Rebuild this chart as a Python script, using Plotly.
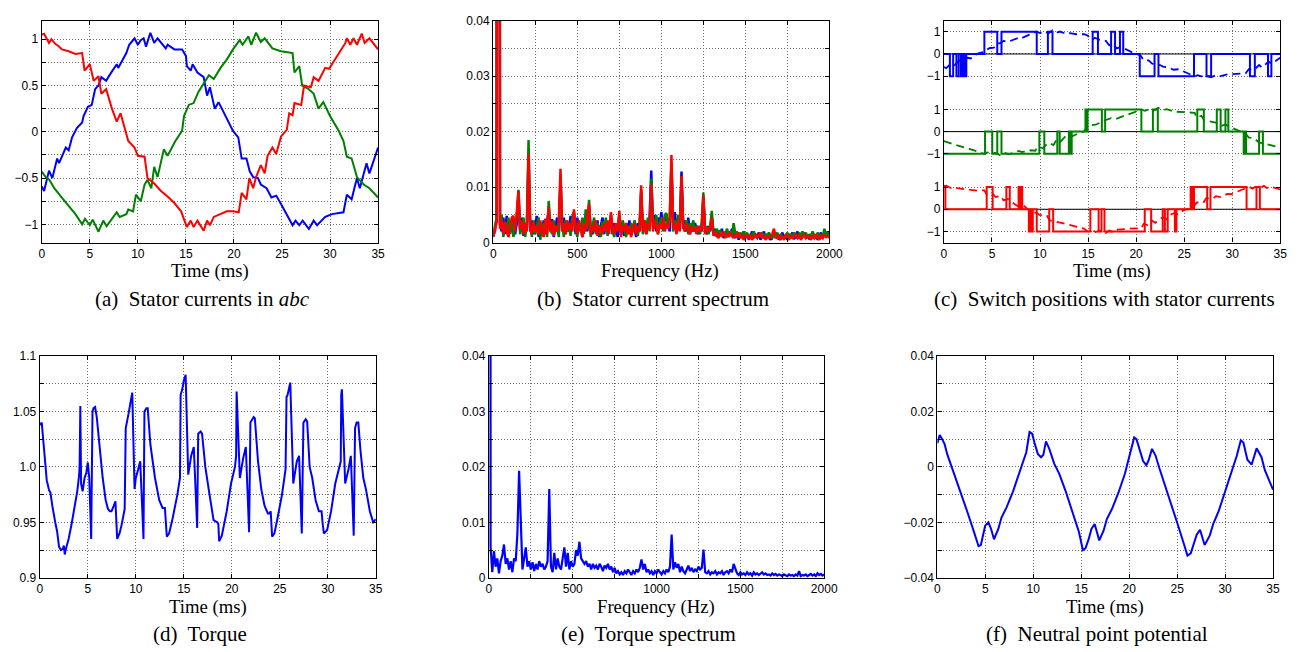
import plotly.graph_objects as go

# ------------------------------------------------------------------ data
# (a) stator currents (time in ms, current in p.u.)
ia_pts = [(0, -0.59), (0.24, -0.64), (0.75, -0.42), (1.1, -0.5), (1.6, -0.29), (1.8, -0.34), (2.5, -0.17), (2.8, -0.2),
          (3.15, -0.06), (3.65, 0.04), (4.2, 0.1), (4.35, 0.17), (4.8, 0.27), (5.2, 0.29), (5.55, 0.46), (5.9, 0.5),
          (6.2, 0.59), (6.7, 0.55), (7.1, 0.62), (7.8, 0.73), (7.95, 0.69), (8.8, 0.85), (9.1, 0.94), (9.65, 1.01),
          (10.0, 0.94), (10.3, 0.99), (10.6, 1.01), (10.85, 0.92), (11.3, 1.07), (11.7, 0.96), (12.05, 1.01), (12.4, 0.96),
          (12.9, 0.9), (13.1, 0.94), (13.8, 0.89), (14.6, 0.89), (15.0, 0.82), (15.1, 0.71), (15.5, 0.66), (15.7, 0.73),
          (16.2, 0.64), (16.85, 0.59), (17.2, 0.39), (17.5, 0.48), (18.0, 0.25), (18.4, 0.32), (19.25, 0.15), (19.9, 0.01),
          (20.45, -0.06), (20.8, -0.29), (21.3, -0.29), (21.65, -0.43), (22.0, -0.49), (22.5, -0.5), (22.8, -0.57),
          (23.4, -0.61), (23.9, -0.71), (24.4, -0.69), (24.9, -0.78), (25.75, -0.94), (26.1, -1.01), (26.4, -0.96),
          (26.8, -1.01), (27.15, -0.96), (27.5, -1.01), (27.8, -1.05), (28.3, -0.96), (28.65, -1.01), (29.5, -0.92),
          (30.2, -0.89), (31.4, -0.87), (31.75, -0.68), (32.25, -0.73), (32.8, -0.5), (33.1, -0.61), (33.8, -0.34),
          (34.1, -0.45), (35, -0.17)]
ib_pts = [(0, -0.43), (0.4, -0.49), (0.8, -0.52), (1.3, -0.61), (2.0, -0.7), (2.8, -0.8), (3.5, -0.89), (4.2, -1.0),
          (4.5, -0.94), (5.0, -1.01), (5.3, -0.95), (5.9, -1.08), (6.4, -0.96), (6.75, -1.02), (7.8, -0.87), (8.1, -0.92),
          (8.8, -0.89), (9.0, -0.84), (9.5, -0.86), (9.8, -0.68), (10.3, -0.75), (10.7, -0.57), (11.0, -0.52),
          (11.4, -0.61), (11.7, -0.38), (12.05, -0.49), (12.7, -0.19), (13.1, -0.26), (13.9, -0.1), (14.6, 0.01),
          (14.8, 0.17), (15.3, 0.29), (15.8, 0.31), (16.3, 0.43), (16.7, 0.5), (17.4, 0.61), (17.9, 0.57), (18.6, 0.69),
          (19.25, 0.78), (19.9, 0.89), (20.6, 0.99), (20.9, 0.94), (21.5, 1.03), (21.8, 0.94), (22.3, 1.07), (22.8, 0.97),
          (23.2, 1.01), (24.0, 0.9), (24.9, 0.87), (26.1, 0.85), (26.3, 0.64), (26.8, 0.71), (27.1, 0.5), (27.8, 0.46),
          (28.3, 0.41), (28.8, 0.25), (29.3, 0.32), (30.0, 0.17), (30.9, 0.01), (31.4, -0.1), (31.75, -0.27),
          (32.25, -0.29), (32.8, -0.49), (33.5, -0.57), (34.1, -0.61), (35, -0.71)]
ic_pts = [(0, 1.05), (0.24, 1.06), (0.75, 0.96), (1.0, 1.0), (1.4, 0.95), (1.7, 0.93), (2.1, 0.89), (2.8, 0.87),
          (3.5, 0.84), (4.2, 0.85), (4.45, 0.66), (5.0, 0.73), (5.4, 0.55), (5.9, 0.6), (6.2, 0.41), (6.7, 0.46),
          (7.3, 0.25), (7.8, 0.11), (8.2, 0.2), (9.0, -0.1), (9.65, -0.17), (10.0, -0.26), (10.7, -0.27), (11.0, -0.5),
          (11.7, -0.56), (12.4, -0.64), (13.1, -0.7), (13.8, -0.77), (14.5, -0.86), (14.9, -0.98), (15.1, -1.03),
          (15.5, -0.96), (15.8, -1.03), (16.2, -0.96), (16.5, -1.01), (16.85, -1.07), (17.2, -0.96), (17.5, -1.01),
          (17.9, -0.92), (18.6, -0.89), (19.25, -0.86), (19.9, -0.86), (20.5, -0.87), (20.8, -0.66), (21.3, -0.73),
          (21.6, -0.5), (22.0, -0.61), (22.3, -0.49), (22.8, -0.36), (23.2, -0.45), (23.5, -0.26), (24.0, -0.17),
          (24.4, -0.24), (24.9, -0.05), (25.5, 0.02), (25.75, 0.2), (26.1, 0.18), (26.3, 0.31), (27.0, 0.29),
          (27.3, 0.5), (28.0, 0.48), (28.3, 0.59), (28.8, 0.55), (29.5, 0.69), (29.9, 0.68), (31.6, 0.96),
          (31.75, 1.01), (32.1, 0.94), (32.45, 1.01), (32.8, 0.94), (33.3, 1.06), (33.6, 0.96), (34.1, 1.01), (35, 0.89)]

# (b) stator current spectra, 10 Hz bins, amplitude in units of 1e-4
spec_ia_e4 = [10, 25, 40, 5000, 35, 20, 45, 15, 48, 10,
              30, 20, 42, 15, 35, 85, 20, 45, 12, 30,
              25, 150, 20, 40, 15, 35, 48, 10, 30, 20,
              40, 15, 35, 60, 20, 42, 10, 30, 45, 15,
              120, 25, 45, 15, 35, 20, 48, 30, 50, 15,
              45, 25, 35, 10, 30, 50, 20, 65, 25, 15,
              35, 20, 40, 10, 30, 45, 15, 38, 20, 30,
              45, 15, 35, 25, 10, 45, 20, 30, 12, 35,
              20, 40, 15, 30, 25, 10, 35, 20, 90, 25,
              40, 15, 35, 45, 130, 30, 50, 20, 45, 30,
              55, 25, 40, 50, 30, 20, 140, 35, 55, 20,
              45, 30, 128, 25, 40, 20, 45, 15, 30, 20,
              35, 25, 15, 30, 20, 80, 25, 15, 30, 20,
              45, 15, 25, 10, 20, 12, 25, 8, 18, 10,
              20, 12, 25, 15, 8, 18, 5, 15, 10, 20,
              8, 15, 5, 12, 20, 8, 15, 10, 18, 5,
              12, 20, 8, 15, 10, 5, 12, 18, 8, 15,
              5, 10, 18, 8, 12, 5, 15, 10, 18, 6,
              12, 20, 8, 15, 10, 18, 8, 14, 6, 12,
              18, 8, 14, 5, 12, 18, 8, 15, 10, 20,
              12]
spec_ib_e4 = [15, 30, 45, 5000, 30, 50, 10, 35, 20, 45,
              15, 38, 10, 30, 45, 95, 15, 30, 45, 10,
              35, 185, 30, 10, 40, 15, 30, 45, 5, 35,
              20, 42, 10, 75, 25, 15, 40, 20, 30, 10,
              110, 35, 10, 40, 20, 30, 12, 45, 55, 25,
              10, 35, 20, 45, 15, 60, 25, 77, 10, 30,
              45, 15, 35, 20, 10, 38, 25, 45, 12, 30,
              50, 20, 10, 35, 25, 50, 15, 40, 25, 10,
              30, 15, 35, 20, 40, 25, 12, 30, 95, 15,
              35, 25, 45, 20, 115, 40, 25, 50, 15, 35,
              45, 20, 50, 53, 25, 45, 145, 20, 40, 30,
              50, 25, 118, 35, 20, 40, 15, 35, 25, 40,
              20, 30, 25, 15, 35, 90, 20, 30, 15, 25,
              57, 20, 12, 25, 15, 22, 10, 20, 12, 25,
              15, 20, 10, 35, 15, 20, 8, 18, 12, 20,
              10, 18, 8, 15, 10, 20, 12, 8, 15, 10,
              18, 8, 15, 10, 18, 12, 8, 15, 10, 18,
              8, 15, 10, 5, 12, 18, 8, 15, 10, 18,
              12, 8, 18, 10, 20, 12, 18, 8, 15, 10,
              20, 12, 8, 18, 10, 15, 8, 25, 12, 18,
              10]
spec_ic_e4 = [12, 20, 38, 5000, 25, 40, 15, 38, 20, 10,
              30, 45, 48, 20, 55, 93, 25, 40, 15, 35,
              20, 160, 25, 15, 38, 20, 30, 15, 40, 20,
              10, 43, 15, 65, 20, 38, 12, 30, 20, 40,
              133, 20, 35, 15, 40, 25, 35, 20, 60, 30,
              15, 40, 25, 10, 35, 20, 45, 70, 15, 30,
              20, 40, 12, 30, 25, 15, 35, 20, 40, 15,
              55, 25, 15, 35, 20, 57, 10, 30, 20, 35,
              15, 30, 10, 25, 35, 15, 30, 20, 103, 20,
              40, 15, 35, 25, 105, 20, 40, 30, 15, 35,
              25, 45, 20, 35, 25, 40, 158, 25, 35, 15,
              40, 20, 120, 30, 20, 35, 25, 15, 30, 20,
              25, 15, 30, 20, 25, 85, 15, 25, 20, 30,
              45, 12, 20, 15, 8, 18, 12, 20, 8, 15,
              10, 18, 12, 8, 15, 10, 18, 8, 12, 5,
              10, 15, 8, 12, 5, 10, 15, 8, 12, 18,
              8, 12, 5, 10, 8, 12, 15, 25, 10, 8,
              12, 5, 10, 8, 15, 10, 5, 12, 8, 10,
              15, 8, 12, 5, 10, 15, 8, 12, 10, 5,
              12, 8, 15, 10, 5, 12, 8, 15, 10, 12,
              8]

# (c) switch positions: (switch time in ms, new level)
sw_a = [(0, 0), (0.62, -1), (0.96, 0), (1.3, -1), (1.54, 0), (1.78, -1), (1.92, 0), (2.12, -1), (2.33, 0),
        (4.21, 1), (5.55, 0), (5.99, 1), (9.66, 0), (10.82, 1), (11.3, 0), (15.48, 1), (16.03, 0), (17.4, 1),
        (17.81, 0), (18.32, 1), (18.66, 0), (20.38, -1), (21.92, 0), (22.33, -1), (26.03, 0), (27.33, -1),
        (27.81, 0), (31.85, -1), (32.36, 0), (33.73, -1), (34.08, 0), (35, 0)]
sw_b = [(0, -1), (4.28, 0), (5.03, -1), (5.55, 0), (5.99, -1), (9.93, 0), (10.45, -1), (11.8, 0), (12.05, -1),
        (13.0, 0), (13.1, -1), (13.3, 0), (14.73, 1), (14.85, 0), (14.95, 1), (16.44, 0), (16.78, 1), (20.55, 0),
        (21.75, 1), (22.26, 0), (26.37, 1), (27.05, 0), (28.4, 1), (28.8, 0), (29.3, 1), (29.6, 0), (31.2, -1),
        (31.35, 0), (31.45, -1), (32.8, 0), (33.2, -1), (35, -1)]
sw_c = [(0, 1), (0.15, 0), (4.45, 1), (5.07, 0), (6.5, 1), (6.85, 0), (7.77, 1), (7.9, 0), (8.0, 1), (8.15, 0),
        (8.84, -1), (9.0, 0), (9.1, -1), (9.25, 0), (9.66, -1), (10.96, 0), (11.37, -1), (15.24, 0), (16.1, -1),
        (16.4, 0), (16.71, -1), (20.9, 0), (21.57, -1), (22.77, 0), (23.0, -1), (23.29, 0), (24.04, -1),
        (24.2, 0), (25.68, 1), (25.85, 0), (26.03, 1), (27.4, 0), (27.74, 1), (31.5, 0), (32.53, 1), (32.88, 0),
        (35, 0)]
phase_offsets = [7.0, 3.5, 0.0]   # vertical stacking of phases a, b, c in panel (c)

# (d) electromagnetic torque (ms, p.u.)
torque_pts = [(0, 1.038), (0.2, 1.04), (0.45, 1.015), (0.72, 0.988), (0.96, 0.979), (1.1, 0.977), (1.3, 0.965),
              (1.5, 0.953), (1.65, 0.948), (1.8, 0.942), (2.0, 0.928), (2.2, 0.925), (2.4, 0.926), (2.5, 0.929),
              (2.6, 0.921), (2.75, 0.927), (3.0, 0.935), (3.3, 0.948), (3.6, 0.962), (3.9, 0.978), (4.1, 0.993),
              (4.15, 1.003), (4.22, 1.055), (4.3, 0.985), (4.46, 0.978), (4.66, 0.99), (4.85, 0.995), (5.0, 1.004),
              (5.15, 0.99), (5.35, 0.935), (5.49, 1.05), (5.6, 1.053), (5.76, 1.054), (5.93, 1.045), (6.1, 1.03),
              (6.34, 1.005), (6.55, 0.99), (6.86, 0.97), (7.1, 0.962), (7.3, 0.96), (7.47, 0.96), (7.71, 0.965),
              (7.88, 0.969), (7.95, 0.955), (8.06, 0.935), (8.3, 0.94), (8.5, 0.947), (8.84, 0.962), (8.95, 1.035),
              (9.2, 1.046), (9.4, 1.055), (9.63, 1.067), (9.87, 0.98), (10.0, 0.99), (10.22, 0.997), (10.46, 1.005),
              (10.8, 0.935), (10.9, 1.05), (11.1, 1.053), (11.24, 1.053), (11.52, 1.02), (11.83, 1.0), (12.0, 0.99),
              (12.44, 0.97), (12.79, 0.963), (13.03, 0.963), (13.23, 0.937), (13.47, 0.94), (13.82, 0.953),
              (14.33, 0.975), (14.6, 0.99), (14.67, 1.065), (14.84, 1.07), (15.0, 1.078), (15.19, 1.083),
              (15.46, 0.993), (15.77, 1.01), (16.04, 1.018), (16.39, 0.945), (16.5, 1.03), (16.75, 1.032),
              (16.9, 1.03), (17.24, 1.0), (17.59, 0.98), (17.93, 0.96), (18.1, 0.952), (18.51, 0.95), (18.6, 0.948),
              (18.68, 0.933), (18.96, 0.938), (19.47, 0.96), (19.92, 0.985), (20.33, 1.0), (20.45, 1.01),
              (20.5, 1.068), (20.84, 0.99), (21.19, 1.008), (21.46, 1.018), (21.8, 0.941), (21.94, 1.04),
              (22.28, 1.045), (22.4, 1.044), (22.73, 1.005), (23.07, 0.98), (23.41, 0.965), (23.76, 0.958),
              (23.93, 0.958), (24.05, 0.96), (24.2, 0.937), (24.44, 0.94), (24.79, 0.955), (25.23, 0.975),
              (25.6, 0.998), (25.7, 1.063), (25.81, 1.065), (26.09, 1.076), (26.4, 0.985), (26.77, 1.005),
              (27.01, 1.01), (27.29, 0.94), (27.46, 1.04), (27.7, 1.043), (27.85, 1.041), (28.11, 1.0),
              (28.38, 0.99), (28.73, 0.97), (29.07, 0.96), (29.35, 0.96), (29.45, 0.95), (29.59, 0.94),
              (29.93, 0.943), (30.34, 0.96), (30.78, 0.985), (31.23, 1.0), (31.35, 1.005), (31.4, 1.065),
              (31.47, 1.07), (31.81, 0.985), (32.16, 0.998), (32.4, 1.01), (32.7, 0.938), (32.84, 1.035),
              (33.0, 1.04), (33.18, 1.04), (33.4, 1.015), (33.7, 0.99), (33.97, 0.98), (34.38, 0.96), (34.73, 0.95),
              (34.85, 0.951), (35, 0.953)]

# (e) torque spectrum, 10 Hz bins, units of 1e-4 (bin 0 = DC)
spec_torque_e4 = [10000, 55, 10, 48, 20, 35, 8, 30, 40, 60,
                  25, 35, 15, 30, 10, 35, 30, 80, 193, 80,
                  15, 35, 55, 20, 30, 15, 28, 12, 25, 15,
                  30, 20, 25, 15, 20, 30, 160, 20, 10, 45,
                  15, 35, 20, 15, 40, 55, 20, 45, 15, 30,
                  20, 25, 50, 40, 65, 35, 30, 25, 30, 20,
                  25, 15, 25, 18, 22, 15, 25, 20, 12, 22,
                  18, 25, 15, 20, 10, 18, 8, 12, 6, 10,
                  5, 12, 8, 15, 10, 5, 12, 8, 15, 10,
                  18, 33, 15, 25, 10, 15, 8, 12, 5, 12,
                  8, 15, 10, 6, 12, 8, 15, 10, 20, 78,
                  15, 28, 18, 25, 10, 20, 12, 8, 15, 22,
                  12, 18, 10, 15, 12, 20, 15, 18, 51, 10,
                  8, 12, 6, 10, 8, 12, 6, 10, 8, 12,
                  5, 10, 12, 8, 15, 10, 25, 15, 8, 5,
                  10, 6, 8, 5, 10, 6, 8, 4, 10, 6,
                  8, 5, 7, 10, 6, 8, 5, 6, 4, 8,
                  5, 7, 4, 6, 5, 3, 6, 5, 3, 6,
                  4, 5, 3, 6, 4, 12, 3, 5, 4, 6,
                  3, 5, 7, 4, 6, 3, 8, 5, 7, 4,
                  6]
BIN_HZ = 10

# (f) neutral point potential (ms, p.u.)
npp_pts = [(0, 0.0085), (0.24, 0.0115), (0.5, 0.01), (0.75, 0.0082), (1.03, 0.0045), (1.37, 0.0012), (1.72, -0.0024),
           (2.4, -0.0088), (3.09, -0.0159), (3.77, -0.023), (4.29, -0.0286), (4.53, -0.0282), (4.98, -0.0212),
           (5.32, -0.02), (5.6, -0.0224), (5.9, -0.0261), (6.35, -0.0224), (6.69, -0.0182), (7.2, -0.0147),
           (7.89, -0.0088), (8.58, -0.0018), (9.27, 0.0053), (9.61, 0.0126), (9.88, 0.012), (10.12, 0.0088),
           (10.47, 0.0047), (10.81, 0.0035), (11.05, 0.0044), (11.32, 0.0092), (11.67, 0.0065), (12.18, 0.0012),
           (12.7, -0.0024), (13.38, -0.0088), (14.07, -0.0159), (14.76, -0.0235), (15.17, -0.03), (15.44, -0.0294),
           (15.79, -0.0259), (16.06, -0.0224), (16.4, -0.0206), (16.88, -0.0265), (17.33, -0.023), (17.67, -0.0188),
           (18.19, -0.0153), (18.87, -0.0094), (19.56, -0.0024), (20.08, 0.0041), (20.52, 0.0106), (20.76, 0.01),
           (21.1, 0.0059), (21.45, 0.0021), (21.79, 0.0006), (22.03, 0.0024), (22.38, 0.0065), (22.75, 0.0041),
           (23.16, -0.0006), (23.68, -0.0059), (24.36, -0.013), (25.05, -0.0206), (25.74, -0.0282), (26.08, -0.032),
           (26.42, -0.0312), (26.77, -0.0276), (27.04, -0.0245), (27.39, -0.0227), (27.87, -0.0282), (28.41, -0.0247),
           (28.76, -0.0206), (29.34, -0.0159), (29.86, -0.0106), (30.54, -0.0035), (31.23, 0.0041), (31.64, 0.0096),
           (31.91, 0.0088), (32.33, 0.0026), (32.77, 0.0008), (33.29, 0.0067), (33.8, 0.0035), (34.15, -0.0012),
           (35, -0.0082)]

# tick labels
time_ticks = [0, 5, 10, 15, 20, 25, 30, 35]
time_labels = ["0", "5", "10", "15", "20", "25", "30", "35"]
freq_ticks = [0, 250, 500, 750, 1000, 1250, 1500, 1750, 2000]
freq_labels = ["0", "", "500", "", "1000", "", "1500", "", "2000"]
spec_ticks = [0, 0.005, 0.01, 0.015, 0.02, 0.025, 0.03, 0.035, 0.04]
spec_labels = ["0", "", "0.01", "", "0.02", "", "0.03", "", "0.04"]
cur_ticks = [-1, -0.75, -0.5, -0.25, 0, 0.25, 0.5, 0.75, 1]
cur_labels = ["\u22121", "", "\u22120.5", "", "0", "", "0.5", "", "1"]
sw_ticks = [-1, 0, 1, 2.5, 3.5, 4.5, 6, 7, 8]
sw_labels = ["\u22121", "0", "1", "\u22121", "0", "1", "\u22121", "0", "1"]
tq_ticks = [0.9, 0.925, 0.95, 0.975, 1.0, 1.025, 1.05, 1.075, 1.1]
tq_labels = ["0.9", "", "0.95", "", "1.0", "", "1.05", "", "1.1"]
np_ticks = [-0.04, -0.03, -0.02, -0.01, 0, 0.01, 0.02, 0.03, 0.04]
np_labels = ["\u22120.04", "", "\u22120.02", "", "0", "", "0.02", "", "0.04"]

titles = ["Time (ms)", "Frequency (Hz)", "Time (ms)", "Time (ms)", "Frequency (Hz)", "Time (ms)"]
captions = ["(a)  Stator currents in <i>abc</i>", "(b)  Stator current spectrum",
            "(c)  Switch positions with stator currents", "(d)  Torque", "(e)  Torque spectrum",
            "(f)  Neutral point potential"]

# ------------------------------------------------------------------ style / layout
W, H = 1310, 652
BLUE, GREEN, RED = "#0000ff", "#008000", "#ff0000"
TICKFONT = dict(family="Liberation Sans, Arial, sans-serif", size=12, color="black")
SERIF = "Liberation Serif, Times New Roman, serif"

# plot-area boxes in pixels: left, right, top, bottom
boxes = [(39.3, 380.0, 14.0, 241.0), (496.7, 837.3, 14.0, 240.7), (953.3, 1294.0, 14.0, 240.7),
         (37.3, 377.7, 356.7, 583.3), (492.3, 832.0, 356.7, 583.3), (946.7, 1286.7, 356.7, 583.3)]
title_pos = [(209.5, 270), (665.8, 270), (1123.3, 270), (207.5, 613.3), (661.7, 613.3), (1116.3, 613.3)]
caption_pos = [(202, 298.5), (658.3, 298.5), (1115.8, 298.5), (199.7, 641), (653.8, 641), (1108.8, 641)]

x_specs = [([0, 35], time_ticks, time_labels), ([0, 2000], freq_ticks, freq_labels),
           ([0, 35], time_ticks, time_labels), ([0, 35], time_ticks, time_labels),
           ([0, 2000], freq_ticks, freq_labels), ([0, 35], time_ticks, time_labels)]
y_specs = [([-1.2, 1.2], cur_ticks, cur_labels), ([0, 0.04], spec_ticks, spec_labels),
           ([-1.5, 8.5], sw_ticks, sw_labels), ([0.9, 1.1], tq_ticks, tq_labels),
           ([0, 0.04], spec_ticks, spec_labels), ([-0.04, 0.04], np_ticks, np_labels)]

fig = go.Figure()


def ax(i):
    return ("x" if i == 0 else f"x{i+1}"), ("y" if i == 0 else f"y{i+1}")


def add_line(i, x, y, color, width=2.0, dash=None, shape="linear"):
    xa, ya = ax(i)
    fig.add_trace(go.Scatter(x=list(x), y=list(y), mode="lines", xaxis=xa, yaxis=ya,
                             line=dict(color=color, width=width, dash=dash, shape=shape),
                             hoverinfo="skip", showlegend=False))


def unzip(pts):
    return [p[0] for p in pts], [p[1] for p in pts]


colors = [BLUE, GREEN, RED]
currents = [ia_pts, ib_pts, ic_pts]
switches = [sw_a, sw_b, sw_c]
spectra = [spec_ia_e4, spec_ib_e4, spec_ic_e4]

# (a)
for pts, c in zip(currents, colors):
    t, v = unzip(pts)
    add_line(0, t, v, c)

# (b)
for sp, c in zip(spectra, colors):
    f = [BIN_HZ * k for k in range(len(sp))]
    add_line(1, f, [s * 1e-4 for s in sp], c, width=2.5)

# (c)
for off in phase_offsets:
    add_line(2, [0, 35], [off, off], "black", width=1)
for sw, pts, c, off in zip(switches, currents, colors, phase_offsets):
    t, v = unzip(sw)
    add_line(2, t, [val + off for val in v], c, width=2, shape="hv")
    t2, v2 = unzip(pts)
    add_line(2, t2, [val + off for val in v2], c, width=1.8, dash="8px,5px")

# (d)
t, v = unzip(torque_pts)
add_line(3, t, v, BLUE)

# (e)
f = [BIN_HZ * k for k in range(len(spec_torque_e4))]
add_line(4, f, [s * 1e-4 for s in spec_torque_e4], BLUE, width=2.2)

# (f)
t, v = unzip(npp_pts)
add_line(5, t, v, BLUE)

layout = dict(width=W, height=H, margin=dict(l=0, r=0, t=0, b=0),
              paper_bgcolor="white", plot_bgcolor="white", showlegend=False)

common = dict(showline=True, linecolor="black", linewidth=1.3, mirror="allticks", ticks="inside",
              ticklen=4, tickwidth=1, tickcolor="black", showgrid=True, gridcolor="#6e6e6e",
              griddash="1px,2px", gridwidth=1, zeroline=False, tickfont=TICKFONT, tickmode="array",
              fixedrange=True)

annotations = []
for i, (l, r, tp, bt) in enumerate(boxes):
    xa, ya = ax(i)
    xkey = "xaxis" if i == 0 else f"xaxis{i+1}"
    ykey = "yaxis" if i == 0 else f"yaxis{i+1}"
    xr, xt, xl = x_specs[i]
    yr, yt, yl = y_specs[i]
    layout[xkey] = dict(common, domain=[l / W, r / W], anchor=ya, range=xr, tickvals=xt, ticktext=xl)
    layout[ykey] = dict(common, domain=[1 - bt / H, 1 - tp / H], anchor=xa, range=yr, tickvals=yt, ticktext=yl)
    tx, ty = title_pos[i]
    annotations.append(dict(x=tx / W, y=1 - ty / H, xref="paper", yref="paper", text=titles[i],
                            showarrow=False, xanchor="center", yanchor="middle",
                            font=dict(family=SERIF, size=18.7, color="black")))
    cx, cy = caption_pos[i]
    annotations.append(dict(x=cx / W, y=1 - cy / H, xref="paper", yref="paper", text=captions[i],
                            showarrow=False, xanchor="center", yanchor="middle",
                            font=dict(family=SERIF, size=21, color="black")))

layout["annotations"] = annotations
fig.update_layout(**layout)
fig.write_html("out.html")
